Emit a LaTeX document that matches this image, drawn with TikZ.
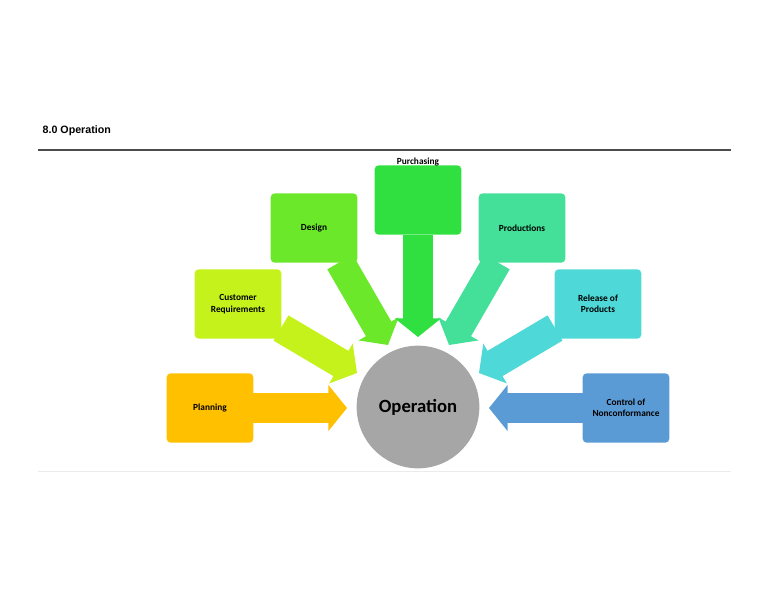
\documentclass[tikz,border=0pt]{standalone}
\usepackage{fontspec}
\setmainfont{Carlito}
\newfontfamily\hdfont{Liberation Sans}
\usetikzlibrary{arrows.meta}
\definecolor{cPlan}{HTML}{FFC000}
\definecolor{cCust}{HTML}{C5F21A}
\definecolor{cDes}{HTML}{6CE82A}
\definecolor{cPur}{HTML}{30E040}
\definecolor{cProd}{HTML}{44E09A}
\definecolor{cRel}{HTML}{4ED8D8}
\definecolor{cCtl}{HTML}{5B9BD5}
\begin{document}
\begin{tikzpicture}[x=0.75pt,y=-0.75pt,
  box/.style={rounded corners=3pt,minimum width=65pt,minimum height=52pt,inner sep=0pt,align=center,font=\bfseries\fontsize{7}{8.5}\selectfont},
  blk/.style={line width=22pt,line cap=butt,-{Triangle[width=34pt,length=14pt]}}]
\useasboundingbox (0,0) rectangle (768,594);
\node[anchor=west,font=\hdfont\bfseries\fontsize{8}{9}\selectfont] (hd) at (38,131) {8.0 Operation};
\coordinate (r1) at (38,150); \coordinate (r2) at (731,150);
\draw[line width=0.8pt,black!70] (r1) -- (r2);
\coordinate (b1) at (38,471); \coordinate (b2) at (731,471);
\draw[line width=0.6pt,black!8] (b1) -- (b2);
\node[circle,fill=black!35,minimum size=92pt,font=\bfseries\fontsize{14}{16}\selectfont] (op) at (418,407) {Operation};
\node[box,fill=cPlan] (pl) at (210,408) {Planning};
\node[box,fill=cCust] (cu) at (238,304) {Customer\\Requirements};
\node[box,fill=cDes] (de) at (314,228) {Design};
\node[box,fill=cPur,text height=7pt] (pu) at (418,200) {Purchasing\\[22pt]};
\node[box,fill=cProd] (pr) at (522,228) {Productions};
\node[box,fill=cRel] (re) at (598,304) {Release of\\Products};
\node[box,fill=cCtl] (co) at (626,408) {Control of\\Nonconformance};
\coordinate (tpl) at (347,408);
\coordinate (tcu) at (357,373);
\coordinate (tde) at (388,345);
\coordinate (tpu) at (418,337);
\coordinate (tpr) at (449,345);
\coordinate (tre) at (479,373);
\coordinate (tco) at (489,408);
\coordinate (spl) at (253,408);
\coordinate (scu) at (281,328);
\coordinate (sde) at (340,262);
\coordinate (spu) at (418,235);
\coordinate (spr) at (497,262);
\coordinate (sre) at (555,328);
\coordinate (sco) at (583,408);
\draw[blk,cPlan] (spl) -- (tpl);
\draw[blk,cCust] (scu) -- (tcu);
\draw[blk,cDes] (sde) -- (tde);
\draw[blk,cPur] (spu) -- (tpu);
\draw[blk,cProd] (spr) -- (tpr);
\draw[blk,cRel] (sre) -- (tre);
\draw[blk,cCtl] (sco) -- (tco);
\end{tikzpicture}
\end{document}
